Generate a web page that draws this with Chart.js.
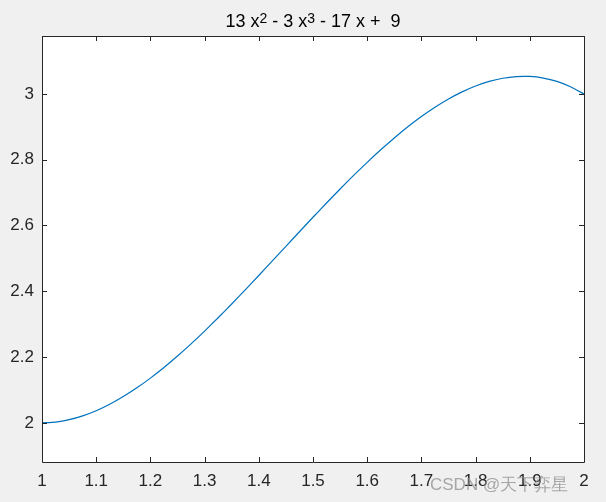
<!DOCTYPE html>
<html>
<head>
<meta charset="utf-8">
<script src="https://cdn.jsdelivr.net/npm/chart.js@4/dist/chart.umd.min.js"></script>
<style>
  html, body { margin: 0; padding: 0; background: #f0f0f0; }
  #wrap { width: 606px; height: 502px; position: relative; }
</style>
</head>
<body>
<div id="wrap"><canvas id="plot" width="606" height="502"></canvas></div>
<script>
// ----------------------------
// Data
// ----------------------------
const xValues = [1, 1.025, 1.05, 1.075, 1.1, 1.125, 1.15, 1.175, 1.2, 1.225, 1.25,
                 1.275, 1.3, 1.325, 1.35, 1.375, 1.4, 1.425, 1.45, 1.475, 1.5,
                 1.525, 1.55, 1.575, 1.6, 1.625, 1.65, 1.675, 1.7, 1.725, 1.75,
                 1.775, 1.8, 1.825, 1.85, 1.875, 1.9, 1.925, 1.95, 1.975, 2];
const yValues = [2, 2.0024, 2.0096, 2.0212, 2.037, 2.0566, 2.0799, 2.1064, 2.136, 2.1683, 2.2031,
                 2.2401, 2.279, 2.3195, 2.3614, 2.4043, 2.448, 2.4922, 2.5366, 2.581, 2.625,
                 2.6684, 2.7109, 2.7522, 2.792, 2.8301, 2.8661, 2.8999, 2.931, 2.9593, 2.9844,
                 3.0061, 3.024, 3.0380, 3.0476, 3.0527, 3.053, 3.0481, 3.0379, 3.0219, 3];
const xTicks = [1, 1.1, 1.2, 1.3, 1.4, 1.5, 1.6, 1.7, 1.8, 1.9, 2];
const yTicks = [2, 2.2, 2.4, 2.6, 2.8, 3];
const titleParts = [['13 x', false], ['2', true], [' - 3 x', false], ['3', true], [' - 17 x +  9', false]];

const FONT = '"Liberation Sans", Arial, Helvetica, sans-serif';
const AXIS_COLOR = '#262626';

// ----------------------------
// Plugins: background, box + inward ticks, title, watermark
// ----------------------------
const matlabLook = {
    id: 'matlabLook',
    beforeDraw(chart) {
        const { ctx, chartArea: a } = chart;
        ctx.save();
        ctx.fillStyle = '#f0f0f0';
        ctx.fillRect(0, 0, chart.width, chart.height);
        ctx.fillStyle = '#ffffff';
        ctx.fillRect(a.left, a.top, a.right - a.left, a.bottom - a.top);
        ctx.restore();
    },
    afterDraw(chart) {
        const { ctx, chartArea: a, scales } = chart;
        ctx.save();
        ctx.strokeStyle = AXIS_COLOR;
        ctx.lineWidth = 1;
        ctx.beginPath();
        ctx.rect(Math.round(a.left) + 0.5, Math.round(a.top) + 0.5,
                 Math.round(a.right - a.left), Math.round(a.bottom - a.top));
        ctx.stroke();

        const len = 5;
        ctx.beginPath();
        xTicks.forEach(v => {
            const px = Math.round(scales.x.getPixelForValue(v)) + 0.5;
            ctx.moveTo(px, a.bottom); ctx.lineTo(px, a.bottom - len);
            ctx.moveTo(px, a.top); ctx.lineTo(px, a.top + len);
        });
        yTicks.forEach(v => {
            const py = Math.round(scales.y.getPixelForValue(v)) + 0.5;
            ctx.moveTo(a.left, py); ctx.lineTo(a.left + len, py);
            ctx.moveTo(a.right, py); ctx.lineTo(a.right - len, py);
        });
        ctx.stroke();

        // title with superscripts
        const mainFont = '18px ' + FONT;
        const supFont = '14px ' + FONT;
        let total = 0;
        titleParts.forEach(([t, sup]) => {
            ctx.font = sup ? supFont : mainFont;
            total += ctx.measureText(t).width;
        });
        let x = (a.left + a.right) / 2 - total / 2;
        const base = 27;
        ctx.fillStyle = '#000000';
        ctx.textBaseline = 'alphabetic';
        ctx.textAlign = 'left';
        titleParts.forEach(([t, sup]) => {
            ctx.font = sup ? supFont : mainFont;
            ctx.fillText(t, x, sup ? base - 4 : base);
            x += ctx.measureText(t).width;
        });

        // watermark
        ctx.font = '17px ' + FONT;
        ctx.fillStyle = 'rgba(140,140,140,0.75)';
        ctx.fillText('CSDN @天下弈星', 430, 490);
        ctx.restore();
    }
};

// ----------------------------
// Chart
// ----------------------------
const ctx = document.getElementById('plot').getContext('2d');
new Chart(ctx, {
    type: 'line',
    data: {
        datasets: [{
            data: xValues.map((x, i) => ({ x: x, y: yValues[i] })),
            borderColor: '#0072BD',
            borderWidth: 1.2,
            pointRadius: 0,
            tension: 0.2,
            fill: false
        }]
    },
    options: {
        responsive: false,
        animation: false,
        layout: { padding: { top: 36, right: 22, left: 0, bottom: 0 } },
        plugins: { legend: { display: false }, title: { display: false }, tooltip: { enabled: false } },
        scales: {
            x: {
                type: 'linear',
                min: 1, max: 2,
                afterFit: s => { s.height = 40; },
                afterBuildTicks: s => { s.ticks = xTicks.map(v => ({ value: v })); },
                grid: { display: false, drawTicks: false },
                border: { display: false },
                ticks: {
                    padding: 9,
                    maxRotation: 0,
                    autoSkip: false,
                    color: AXIS_COLOR,
                    font: { family: FONT, size: 17 },
                    callback: v => String(v)
                }
            },
            y: {
                type: 'linear',
                min: 1.881, max: 3.176,
                afterFit: s => { s.width = 42; },
                afterBuildTicks: s => { s.ticks = yTicks.map(v => ({ value: v })); },
                grid: { display: false, drawTicks: false },
                border: { display: false },
                ticks: {
                    padding: 8,
                    autoSkip: false,
                    color: AXIS_COLOR,
                    font: { family: FONT, size: 17 },
                    callback: v => String(v)
                }
            }
        }
    },
    plugins: [matlabLook]
});
</script>
</body>
</html>
